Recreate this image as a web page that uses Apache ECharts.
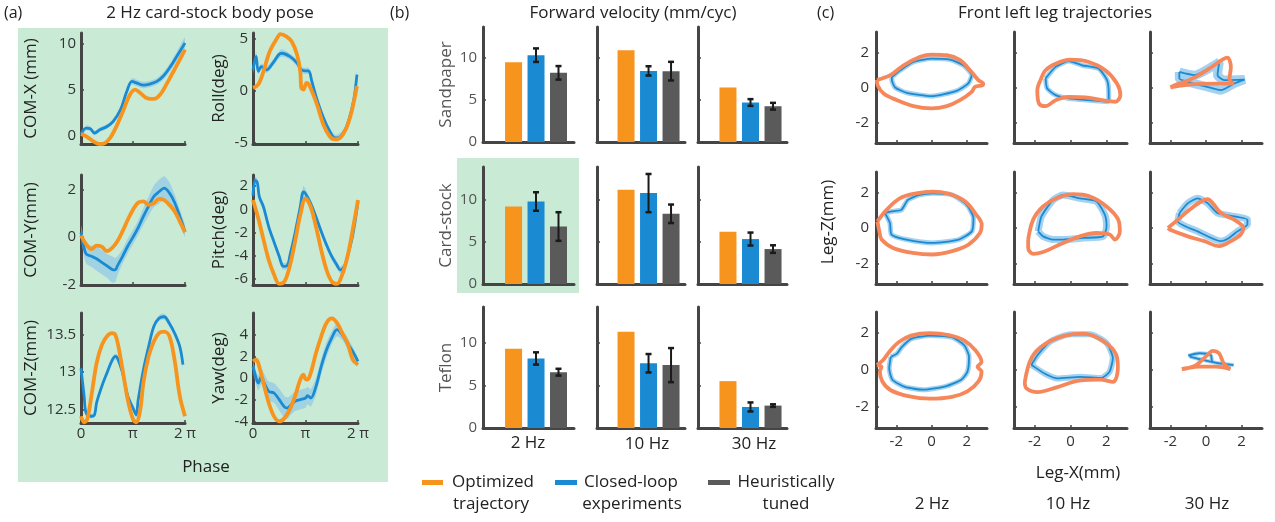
<!DOCTYPE html>
<html>
<head>
<meta charset="utf-8">
<script src="https://cdn.jsdelivr.net/npm/echarts@6/dist/echarts.min.js"></script>
<style>
html, body { margin: 0; padding: 0; background: #fff; }
#main { width: 1275px; height: 522px; }
</style>
</head>
<body>
<div id="main"></div>
<script>
var FONT = '"Open Sans", "Noto Sans", sans-serif';
var ORANGE = '#f7941d', BLUE = '#1a8bd3', GRAY = '#5a5a5a', SALMON = '#f5875b';
var BAND = '#86c1ea', AXIS = '#454545', GREEN = '#c9ead5';

// (a) body pose -- x is phase as fraction of a cycle (0..1 -> 0..2pi)
var comXOpt = [[0,0.18],[0.05,-0.07],[0.12,-0.62],[0.18,-0.9],[0.23,-0.8],[0.28,-0.25],[0.34,1.0],[0.41,2.83],[0.47,4.45],[0.52,5.0],[0.57,4.64],[0.63,4.1],[0.7,3.99],[0.76,4.45],[0.82,5.54],[0.89,7.0],[0.95,8.26],[1,9.35]];
var comXCl = [[0,0.18],[0.05,0.83],[0.09,0.76],[0.13,0.29],[0.18,0.65],[0.25,1.0],[0.31,1.56],[0.38,2.83],[0.44,4.8],[0.49,5.9],[0.54,5.7],[0.6,5.5],[0.66,5.6],[0.73,5.9],[0.79,6.45],[0.86,7.5],[0.92,8.6],[1,10.07]];
var comXSd = [0.2,0.25,0.25,0.25,0.25,0.25,0.25,0.3,0.3,0.35,0.35,0.35,0.35,0.35,0.4,0.45,0.5,0.6];

var rollOpt = [[0,0.26],[0.05,0.58],[0.1,1.86],[0.16,3.8],[0.23,5.06],[0.26,5.45],[0.32,5.2],[0.37,4.7],[0.42,3.46],[0.45,1.86],[0.46,0.26],[0.48,0.1],[0.51,0.74],[0.54,0.42],[0.61,-1.35],[0.67,-3.27],[0.73,-4.4],[0.78,-4.7],[0.83,-4.55],[0.89,-3.6],[0.94,-2.0],[0.99,0.42]];
var rollCl = [[0,2.0],[0.03,3.3],[0.05,1.86],[0.08,2.3],[0.13,2.0],[0.19,2.66],[0.27,3.6],[0.35,3.3],[0.42,2.66],[0.46,2.0],[0.5,1.9],[0.53,1.9],[0.56,0.9],[0.61,-0.87],[0.67,-2.6],[0.73,-3.9],[0.78,-4.55],[0.81,-4.55],[0.86,-4.1],[0.91,-2.95],[0.96,-0.87],[0.99,1.54]];
var rollSd = [0.4,0.4,0.3,0.3,0.3,0.3,0.35,0.3,0.3,0.3,0.3,0.3,0.3,0.3,0.3,0.3,0.3,0.35,0.3,0.3,0.3,0.3];

var comYOpt = [[0,0.07],[0.05,-0.3],[0.1,-0.5],[0.15,-0.35],[0.2,-0.4],[0.25,-0.58],[0.3,-0.45],[0.35,-0.17],[0.4,0.25],[0.45,0.73],[0.5,1.15],[0.55,1.45],[0.6,1.5],[0.65,1.35],[0.7,1.42],[0.75,1.6],[0.8,1.55],[0.85,1.35],[0.9,1.08],[0.95,0.66],[1,0.2]];
var comYCl = [[0,0.2],[0.03,-0.45],[0.05,-0.7],[0.1,-0.8],[0.15,-0.9],[0.2,-1.05],[0.25,-1.2],[0.3,-1.35],[0.33,-1.37],[0.35,-1.2],[0.4,-0.8],[0.45,-0.37],[0.5,0],[0.55,0.4],[0.6,0.87],[0.65,1.3],[0.7,1.7],[0.75,1.9],[0.8,2.05],[0.85,1.85],[0.9,1.45],[0.95,0.87],[1,0.25]];
var comYSd = [0.3,0.35,0.4,0.45,0.5,0.5,0.5,0.55,0.5,0.4,0.3,0.3,0.3,0.3,0.35,0.4,0.45,0.5,0.5,0.45,0.35,0.3,0.25];

var pitchOpt = [[0,0.8],[0.05,-0.77],[0.1,-2.6],[0.15,-4.35],[0.2,-5.6],[0.25,-6.4],[0.3,-6.2],[0.35,-4.9],[0.4,-2.8],[0.45,-0.5],[0.5,0.95],[0.55,0.2],[0.6,-1.5],[0.65,-3.5],[0.7,-5.2],[0.75,-6.2],[0.8,-6.4],[0.85,-5.6],[0.9,-4.05],[0.95,-1.75],[1,0.8]];
var pitchCl = [[0,1.2],[0.02,2.5],[0.04,2.35],[0.06,1.1],[0.1,0.2],[0.15,-1.5],[0.2,-2.8],[0.25,-4.05],[0.28,-4.85],[0.3,-4.9],[0.33,-4.8],[0.35,-4.05],[0.4,-2.05],[0.45,0.2],[0.48,1.5],[0.5,1.35],[0.55,0.5],[0.6,-0.65],[0.65,-1.9],[0.7,-3.05],[0.75,-4.05],[0.8,-4.8],[0.83,-5.2],[0.87,-4.9],[0.9,-4.05],[0.95,-2.2],[1,0.65]];
var pitchSd = [0.3,0.3,0.3,0.3,0.3,0.3,0.3,0.3,0.3,0.3,0.3,0.3,0.3,0.35,0.5,0.4,0.3,0.3,0.3,0.3,0.3,0.3,0.3,0.3,0.3,0.3,0.3];

var comZOpt = [[0,12.41],[0.03,12.33],[0.06,12.37],[0.1,12.68],[0.15,13.12],[0.2,13.36],[0.25,13.48],[0.3,13.52],[0.33,13.5],[0.36,13.34],[0.4,13.03],[0.45,12.63],[0.5,12.37],[0.53,12.33],[0.57,12.5],[0.6,12.86],[0.65,13.21],[0.7,13.41],[0.75,13.52],[0.8,13.54],[0.85,13.48],[0.9,13.16],[0.95,12.68],[1,12.41]];
var comZCl = [[0,13.05],[0.03,12.68],[0.05,12.45],[0.1,12.41],[0.13,12.43],[0.15,12.59],[0.2,12.81],[0.25,12.99],[0.3,13.16],[0.33,13.21],[0.35,13.19],[0.4,12.99],[0.45,12.68],[0.5,12.52],[0.53,12.43],[0.55,12.63],[0.6,13.03],[0.65,13.34],[0.7,13.61],[0.75,13.72],[0.8,13.74],[0.85,13.65],[0.9,13.52],[0.95,13.34],[0.98,13.1]];
var comZSd = [0.03,0.03,0.03,0.03,0.03,0.03,0.04,0.04,0.04,0.04,0.04,0.04,0.04,0.04,0.04,0.04,0.04,0.04,0.04,0.04,0.04,0.04,0.04,0.04,0.04];

var yawOpt = [[0,1.54],[0.03,1.7],[0.05,1.38],[0.1,-0.46],[0.15,-2.3],[0.2,-3.54],[0.25,-4.0],[0.3,-3.7],[0.35,-2.92],[0.4,-1.7],[0.45,-0.15],[0.48,0.3],[0.5,-0.1],[0.52,-0.15],[0.55,0.46],[0.6,2.3],[0.65,3.85],[0.7,5.08],[0.75,5.5],[0.8,5.08],[0.85,4.15],[0.9,3.23],[0.95,1.7],[1,1.23]];
var yawCl = [[0,1.08],[0.03,0],[0.05,-0.46],[0.08,0.15],[0.1,-0.3],[0.15,-1.23],[0.2,-1.38],[0.25,-2.0],[0.3,-2.68],[0.33,-2.77],[0.35,-2.6],[0.4,-2.15],[0.45,-2.0],[0.5,-1.85],[0.52,-1.63],[0.55,-1.85],[0.6,-0.77],[0.65,1.08],[0.7,2.6],[0.75,3.7],[0.8,4.46],[0.85,4.0],[0.9,3.2],[0.95,2.46],[1,1.54]];
var yawSd = [0.5,0.6,0.7,0.7,0.8,0.9,0.9,1.0,1.0,1.0,0.9,0.9,0.9,0.9,0.8,0.8,0.8,0.7,0.7,0.6,0.6,0.5,0.5,0.4,0.3];

// (b) forward velocity (mm/cyc), columns 2 Hz, 10 Hz, 30 Hz
var freqs = ['2 Hz', '10 Hz', '30 Hz'];
var surfaces = ['Sandpaper', 'Card-stock', 'Teflon'];
var sandOpt = [9.44, 10.86, 6.45];
var sandClosed = [10.27, 8.41, 4.67];
var sandClosedErr = [0.8, 0.55, 0.4];
var sandHeur = [8.18, 8.38, 4.23];
var sandHeurErr = [0.8, 1.1, 0.4];
var cardOpt = [9.2, 11.19, 6.2];
var cardClosed = [9.8, 10.8, 5.34];
var cardClosedErr = [1.1, 2.27, 0.77];
var cardHeur = [6.83, 8.34, 4.15];
var cardHeurErr = [1.7, 1.1, 0.45];
var teflonOpt = [9.3, 11.3, 5.5];
var teflonClosed = [8.16, 7.6, 2.47];
var teflonClosedErr = [0.72, 1.08, 0.53];
var teflonHeur = [6.55, 7.38, 2.63];
var teflonHeurErr = [0.4, 2.0, 0.15];

// (c) front left leg trajectories [Leg-X, Leg-Z] (mm), rows = surfaces, cols = freqs
var c11Opt = [[-3.1,0.42],[-2.34,0.7],[-1.58,1.26],[-0.64,1.74],[0,1.87],[0.87,1.83],[1.62,1.55],[2.19,0.98],[2.66,0.42],[2.94,0.23],[2.9,0.13],[2.47,0.04],[2.28,-0.25],[1.62,-0.72],[0.87,-1.06],[0,-1.19],[-1.02,-1.06],[-1.96,-0.72],[-2.72,-0.34],[-3.06,0.13],[-3.1,0.42]];
var c11Cl = [[-2.25,0.6],[-1.77,0.98],[-1.02,1.45],[0,1.64],[1.06,1.58],[1.81,1.26],[2.28,0.7],[2.09,0.23],[1.43,-0.19],[0,-0.49],[-1.4,-0.3],[-2.06,0],[-2.25,0.42],[-2.25,0.6]];
var c12Opt = [[-1.67,0.42],[-1.39,0.98],[-0.83,1.35],[0,1.58],[1.02,1.45],[1.94,0.98],[2.59,0.23],[2.78,-0.43],[2.5,-0.81],[1.76,-0.72],[0.83,-0.56],[-0.09,-0.53],[-0.83,-0.72],[-1.39,-1.06],[-1.76,-0.9],[-1.85,-0.15],[-1.67,0.42]];
var c12Cl = [[-1.39,0.51],[-0.83,1.17],[-0.09,1.5],[0.65,1.26],[1.57,1.07],[2.04,0.42],[2.13,-0.34],[2.13,-0.81],[1.02,-0.72],[-0.09,-0.62],[-0.83,-0.43],[-1.3,-0.06],[-1.39,0.51]];
var c13Opt = [[-2,0],[-1.3,0.12],[-0.3,0.2],[0.7,0.22],[1.55,0.22],[1.32,0.5],[1.4,1.16],[1.2,1.7],[0.95,1.6],[0.3,1.15],[-0.5,0.65],[-1.21,0.32],[-1.7,0.15],[-2,0]];
var c13Cl = [[-1.5,0.88],[-0.65,0.7],[0.47,1.26],[0.75,1.45],[0.65,0.7],[1.03,0.42],[2.17,0.45],[1.59,0.23],[0.84,-0.15],[-0.09,0.08],[-1.03,0.32],[-1.5,0.51],[-1.5,0.88]];
var c21Opt = [[-3.07,0.37],[-2.55,1.02],[-1.8,1.67],[-0.87,1.95],[0.06,2.05],[0.99,1.92],[1.92,1.49],[2.47,0.84],[2.85,0.19],[2.75,-0.28],[2.1,-0.93],[1.17,-1.3],[0.06,-1.49],[-1.06,-1.4],[-2.18,-1.12],[-2.83,-0.65],[-2.96,-0.19],[-3.07,0.37]];
var c21Cl = [[-2.64,0.84],[-2.27,0.93],[-1.71,1.02],[-1.34,1.58],[-0.69,1.86],[0.06,1.95],[1.17,1.86],[2.0,1.3],[2.38,0.56],[2.29,-0.19],[1.54,-0.65],[0.06,-0.84],[-1.43,-0.65],[-2.27,-0.37],[-2.36,0.28],[-2.64,0.84]];
var c22Opt = [[-2.36,-0.65],[-2.08,0.47],[-1.53,1.21],[-0.78,1.67],[0.15,1.9],[1.08,1.77],[2.01,1.21],[2.66,0.47],[2.75,-0.19],[2.47,-0.65],[2.19,-0.37],[1.45,-0.28],[0.52,-0.47],[-0.6,-0.93],[-1.53,-1.35],[-2.08,-1.45],[-2.36,-1.12],[-2.36,-0.65]];
var c22Cl = [[-1.8,-0.19],[-1.62,0.65],[-0.97,1.58],[-0.41,1.86],[0.52,1.67],[1.45,1.49],[1.92,0.74],[2.01,0.09],[1.82,-0.47],[0.71,-0.56],[-0.41,-0.65],[-0.97,-0.65],[-1.53,-0.47],[-1.8,-0.19]];
var c23Opt = [[-2.14,0],[-1.58,0.47],[-0.93,1.02],[-0.28,1.49],[0.09,1.62],[0.37,1.4],[0.84,0.84],[1.58,0.47],[2.1,0],[1.95,-0.37],[1.4,-0.74],[0.74,-1.02],[-0.09,-0.74],[-1.02,-0.47],[-1.95,-0.13],[-2.14,0]];
var c23Cl = [[-1.49,0.84],[-1.02,1.4],[-0.47,1.67],[0.09,1.4],[0.65,0.84],[2.33,0.47],[2.33,0.19],[1.77,-0.19],[1.3,-0.56],[0.84,-0.74],[-0.47,-0.19],[-1.58,0.37],[-1.49,0.84]];
var c31Opt = [[-3.1,0.27],[-2.76,0.53],[-2.4,0.98],[-1.87,1.51],[-1.16,1.87],[-0.09,2.0],[0.98,1.9],[1.87,1.6],[2.49,1.07],[2.84,0.44],[2.61,0.18],[2.84,-0.09],[2.67,-0.62],[2.04,-1.16],[1.16,-1.46],[-0.09,-1.56],[-1.33,-1.42],[-2.31,-1.1],[-2.79,-0.62],[-2.93,-0.09],[-2.84,0.18],[-3.1,0.27]];
var c31Cl = [[-2.31,0.71],[-1.96,0.89],[-1.69,1.24],[-1.16,1.69],[-0.09,1.87],[1.16,1.78],[1.87,1.33],[2.13,0.71],[2.04,-0.09],[1.69,-0.53],[0.8,-0.89],[-0.44,-1.07],[-1.51,-0.92],[-2.22,-0.53],[-2.4,0.09],[-2.31,0.71]];
var c32Opt = [[-2.55,-0.65],[-2.18,0.65],[-1.45,1.39],[-0.36,1.85],[0.73,1.98],[1.82,1.57],[2.55,0.83],[2.64,0.09],[2.36,-0.65],[1.64,-0.52],[0.55,-0.56],[-0.73,-0.93],[-1.82,-1.2],[-2.45,-1.0],[-2.55,-0.65]];
var c32Cl = [[-2.18,0.28],[-1.82,0.83],[-1.09,1.57],[0,1.94],[1.09,1.94],[2.0,1.48],[2.36,0.65],[2.18,-0.09],[1.73,-0.43],[0.55,-0.37],[-0.73,-0.46],[-1.45,-0.19],[-2.18,0.28]];
var c33Opt = [[-1.36,0.05],[-1.09,0.09],[-0.55,0.27],[0.09,0.82],[0.36,1.04],[0.73,0.91],[1.0,0.36],[1.36,0.05],[0.55,0.18],[-0.36,0.18],[-1.18,0.09],[-1.36,0.05]];
var c33Cl = [[-1.0,0.78],[-0.36,0.91],[0.27,0.82],[0.36,0.45],[1.55,0.27],[0.73,0.36],[-0.18,0.55],[-0.91,0.73]];

var grids = [], xAxes = [], yAxes = [], series = [], graphics = [];

function addGrid(box, xa, ya) {
    var i = grids.length;
    grids.push({left: box[0], top: box[1], width: box[2], height: box[3]});
    xa.gridIndex = i;
    ya.gridIndex = i;
    xAxes.push(xa);
    yAxes.push(ya);
    return i;
}

function axis(min, max, ticks, showLabel, labelColor, margin) {
    return {
        type: 'value', min: min, max: max,
        splitLine: {show: false},
        axisLine: {show: true, onZero: false, lineStyle: {color: AXIS, width: 3}},
        axisTick: {show: ticks.length > 0, inside: true, length: 3, customValues: ticks, lineStyle: {color: AXIS, width: 1.5}},
        axisLabel: {show: showLabel, customValues: ticks, fontSize: 15, fontFamily: FONT, color: labelColor || '#333', margin: margin || 5}
    };
}

function text(x, y, str, size, opt) {
    opt = opt || {};
    graphics.push({
        type: 'text', x: x, y: y, rotation: opt.rot || 0, z: 10,
        style: {text: str, fontSize: size, fontFamily: FONT, fill: opt.color || '#222',
                align: opt.align || 'center', verticalAlign: 'middle'}
    });
}

function rect(x, y, w, h, color) {
    graphics.push({type: 'rect', shape: {x: x, y: y, width: w, height: h}, style: {fill: color}, z: -10, silent: true});
}

function band(gi, pts, sd) {
    return {
        type: 'custom', xAxisIndex: gi, yAxisIndex: gi, data: [0], silent: true, z: 1, clip: true,
        renderItem: function (params, api) {
            var up = pts.map(function (p, i) { return api.coord([p[0], p[1] + sd[i]]); });
            var lo = pts.map(function (p, i) { return api.coord([p[0], p[1] - sd[i]]); }).reverse();
            return {type: 'polygon', shape: {points: up.concat(lo), smooth: 0.25},
                    style: {fill: BAND, opacity: 0.6}};
        }
    };
}

// ---------- (a)
rect(18, 28, 370, 454, GREEN);
text(4, 13, '(a)', 16, {align: 'left'});
text(210, 13, '2 Hz card-stock body pose', 17);
text(206, 467, 'Phase', 17);

var posePlots = [
    {name: 'COM-X (mm)', box: [81, 33, 104, 111], y: [-0.9, 11.15], ticks: [0, 5, 10], opt: comXOpt, cl: comXCl, sd: comXSd, gap: 41},
    {name: 'Roll(deg)', box: [253, 33, 105, 111], y: [-5.15, 5.55], ticks: [-5, 0, 5], opt: rollOpt, cl: rollCl, sd: rollSd, gap: 25},
    {name: 'COM-Y(mm)', box: [81, 175, 104, 110], y: [-2, 2.6], ticks: [-2, 0, 2], opt: comYOpt, cl: comYCl, sd: comYSd, gap: 41},
    {name: 'Pitch(deg)', box: [253, 175, 105, 110], y: [-6.5, 2.95], ticks: [-6, -4, -2, 0, 2], opt: pitchOpt, cl: pitchCl, sd: pitchSd, gap: 25},
    {name: 'COM-Z(mm)', box: [81, 313, 104, 110], y: [12.32, 13.79], ticks: [12.5, 13, 13.5], opt: comZOpt, cl: comZCl, sd: comZSd, gap: 41},
    {name: 'Yaw(deg)', box: [253, 313, 105, 110], y: [-4.15, 6.0], ticks: [-4, -2, 0, 2, 4], opt: yawOpt, cl: yawCl, sd: yawSd, gap: 25}
];

posePlots.forEach(function (p, k) {
    var xa = axis(0, 1, [0, 0.5, 1], k >= 4, '#333', 3);
    xa.axisLabel.formatter = function (v) { return v === 0 ? '0' : (v === 0.5 ? 'π' : '2 π'); };
    var ya = axis(p.y[0], p.y[1], p.ticks, true, '#333', 5);
    ya.name = p.name;
    ya.nameLocation = 'middle';
    ya.nameRotate = 90;
    ya.nameGap = p.gap;
    ya.nameTextStyle = {fontSize: 17, fontFamily: FONT, color: '#222'};
    var gi = addGrid(p.box, xa, ya);
    series.push(band(gi, p.cl, p.sd));
    series.push({type: 'line', xAxisIndex: gi, yAxisIndex: gi, data: p.cl, smooth: 0.35, showSymbol: false,
                 lineStyle: {color: BLUE, width: 2.8}, z: 3});
    series.push({type: 'line', xAxisIndex: gi, yAxisIndex: gi, data: p.opt, smooth: 0.35, showSymbol: false,
                 lineStyle: {color: ORANGE, width: 3.8}, z: 4});
});

// ---------- (b)
rect(457, 158, 122, 135, GREEN);
text(390, 13, '(b)', 16, {align: 'left'});
text(633, 13, 'Forward velocity (mm/cyc)', 17);

var barRows = [
    {opt: sandOpt, cl: sandClosed, clErr: sandClosedErr, he: sandHeur, heErr: sandHeurErr},
    {opt: cardOpt, cl: cardClosed, clErr: cardClosedErr, he: cardHeur, heErr: cardHeurErr},
    {opt: teflonOpt, cl: teflonClosed, clErr: teflonClosedErr, he: teflonHeur, heErr: teflonHeurErr}
];
var barRowBox = [[27, 115, 13.6], [167, 117, 13.9], [307, 121, 14.2]];
var barColBox = [[483, 91, -0.36, 3.69], [597, 88, -0.29, 3.62], [698, 89, -0.33, 3.62]];

function errorBars(gi, data) {
    return {
        type: 'custom', xAxisIndex: gi, yAxisIndex: gi, data: data, z: 6, silent: true,
        renderItem: function (params, api) {
            var x = api.value(0), v = api.value(1), e = api.value(2);
            var a = api.coord([x, v + e]), b = api.coord([x, v - e]);
            var w = 3, st = {stroke: '#1a1a1a', lineWidth: 2};
            return {type: 'group', children: [
                {type: 'line', shape: {x1: a[0], y1: a[1], x2: b[0], y2: b[1]}, style: st},
                {type: 'line', shape: {x1: a[0] - w, y1: a[1], x2: a[0] + w, y2: a[1]}, style: {stroke: '#1a1a1a', lineWidth: 2.5}},
                {type: 'line', shape: {x1: b[0] - w, y1: b[1], x2: b[0] + w, y2: b[1]}, style: {stroke: '#1a1a1a', lineWidth: 2.5}}
            ]};
        }
    };
}

barRows.forEach(function (row, r) {
    var rb = barRowBox[r];
    barColBox.forEach(function (cb, c) {
        var xa = axis(cb[2], cb[3], [], false);
        var ya = axis(0, rb[2], [0, 5, 10], c === 0, '#555', 6);
        if (c === 0) {
            ya.name = surfaces[r];
            ya.nameLocation = 'middle';
            ya.nameRotate = 90;
            ya.nameGap = 28;
            ya.nameTextStyle = {fontSize: 17, fontFamily: FONT, color: '#555'};
        }
        var gi = addGrid([cb[0], rb[0], cb[1], rb[1]], xa, ya);
        series.push({
            type: 'bar', xAxisIndex: gi, yAxisIndex: gi, barWidth: 17, z: 3,
            data: [
                {value: [1, row.opt[c]], itemStyle: {color: ORANGE}},
                {value: [2, row.cl[c]], itemStyle: {color: BLUE}},
                {value: [3, row.he[c]], itemStyle: {color: GRAY}}
            ]
        });
        series.push(errorBars(gi, [[2, row.cl[c], row.clErr[c]], [3, row.he[c], row.heErr[c]]]));
    });
});
text(528, 443, freqs[0], 17);
text(647, 444, freqs[1], 17);
text(754, 444, freqs[2], 17);

// legend
graphics.push({type: 'rect', shape: {x: 422, y: 480, width: 21, height: 5}, style: {fill: ORANGE}, z: 10});
graphics.push({type: 'rect', shape: {x: 555, y: 480, width: 22, height: 5}, style: {fill: BLUE}, z: 10});
graphics.push({type: 'rect', shape: {x: 708, y: 480, width: 22, height: 5}, style: {fill: GRAY}, z: 10});
text(493, 482, 'Optimized', 17);
text(491, 504, 'trajectory', 17);
text(631, 482, 'Closed-loop', 17);
text(632, 504, 'experiments', 17);
text(786, 482, 'Heuristically', 17);
text(786, 504, 'tuned', 17);

// ---------- (c)
text(817, 13, '(c)', 16, {align: 'left'});
text(1055, 13, 'Front left leg trajectories', 17);
text(828, 222, 'Leg-Z(mm)', 17, {rot: Math.PI / 2});
text(1078, 473, 'Leg-X(mm)', 17);

var legPlots = [
    [c11Opt, c11Cl, 5], [c12Opt, c12Cl, 5], [c13Opt, c13Cl, 9],
    [c21Opt, c21Cl, 5], [c22Opt, c22Cl, 7], [c23Opt, c23Cl, 7],
    [c31Opt, c31Cl, 5], [c32Opt, c32Cl, 6], [c33Opt, c33Cl, 4]
];
var legRowBox = [[32, 111], [172, 112], [312, 116]];
var legColBox = [[876, 111], [1014, 113], [1150, 112]];

legPlots.forEach(function (lp, k) {
    var r = Math.floor(k / 3), c = k % 3;
    var xa = axis(-3.15, 3.15, [-2, 0, 2], r === 2, '#333', 6);
    var ya = axis(-3.15, 3.15, [-2, 0, 2], c === 0, '#333', 7);
    var gi = addGrid([legColBox[c][0], legRowBox[r][0], legColBox[c][1], legRowBox[r][1]], xa, ya);
    series.push({type: 'line', xAxisIndex: gi, yAxisIndex: gi, data: lp[1], smooth: 0.2, showSymbol: false,
                 lineStyle: {color: BAND, width: lp[2], opacity: 0.75}, z: 2});
    series.push({type: 'line', xAxisIndex: gi, yAxisIndex: gi, data: lp[1], smooth: 0.2, showSymbol: false,
                 lineStyle: {color: BLUE, width: 1.8}, z: 3});
    series.push({type: 'line', xAxisIndex: gi, yAxisIndex: gi, data: lp[0], smooth: 0.35, showSymbol: false,
                 lineStyle: {color: SALMON, width: 3.8}, z: 4});
});
text(932, 504, freqs[0], 17);
text(1068, 504, freqs[1], 17);
text(1207, 504, freqs[2], 17);

var chart = echarts.init(document.getElementById('main'));
chart.setOption({
    animation: false,
    backgroundColor: '#fff',
    grid: grids,
    xAxis: xAxes,
    yAxis: yAxes,
    series: series,
    graphic: {elements: graphics}
});
</script>
</body>
</html>
